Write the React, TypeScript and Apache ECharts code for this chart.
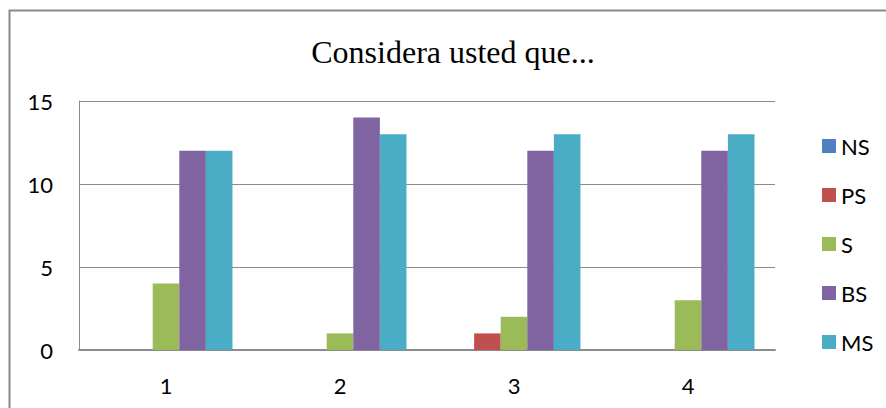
import React, { useEffect, useRef } from "react";
import * as echarts from "echarts";

const categories = ["1", "2", "3", "4"];
const seriesNames = ["NS", "PS", "S", "BS", "MS"];
const nsValues = [0, 0, 0, 0];
const psValues = [0, 0, 1, 0];
const sValues = [4, 1, 2, 3];
const bsValues = [12, 14, 12, 12];
const msValues = [12, 13, 13, 13];
const colors = ["#4F81BD", "#C0504D", "#9BBB59", "#8064A2", "#4BACC6"];
const titleText = "Considera usted que...";

export default function App() {
  const ref = useRef<HTMLDivElement>(null);
  useEffect(() => {
    if (!ref.current) return;
    const chart = echarts.init(ref.current, undefined, { renderer: "svg" });
    const values = [nsValues, psValues, sValues, bsValues, msValues];
    const font = "Lato";
    chart.setOption({
      animation: false,
      backgroundColor: "#ffffff",
      title: {
        text: titleText,
        left: 448,
        top: 31,
        textAlign: "center",
        textStyle: {
          fontFamily: "Liberation Serif",
          fontSize: 32,
          fontWeight: "normal",
          color: "#000",
        },
      },
      graphic: [
        {
          type: "rect",
          shape: { x: 9.5, y: 10.5, width: 1000, height: 600 },
          style: { fill: "none", stroke: "#8a8a8a", lineWidth: 2 },
          silent: true,
        },
      ],
      legend: {
        orient: "vertical",
        left: 817,
        top: 130,
        itemWidth: 14,
        itemHeight: 14,
        itemGap: 27,
        icon: "rect",
        textStyle: { fontFamily: font, fontSize: 22, color: "#000" },
        data: seriesNames,
      },
      grid: { left: 79, right: 111, top: 101, bottom: 58 },
      xAxis: {
        type: "category",
        data: categories,
        axisLine: { lineStyle: { color: "#8c8c8c", width: 2 } },
        axisTick: { show: false },
        axisLabel: { fontFamily: font, fontSize: 22, color: "#000", margin: 24 },
      },
      yAxis: {
        type: "value",
        min: 0,
        max: 15,
        interval: 5,
        axisLine: { show: true, lineStyle: { color: "#8c8c8c", width: 1 } },
        axisTick: { show: false },
        splitLine: { lineStyle: { color: "#8c8c8c", width: 1 } },
        axisLabel: { fontFamily: font, fontSize: 22, color: "#000", margin: 26 },
      },
      series: seriesNames.map((name, i) => ({
        name,
        type: "bar",
        data: values[i],
        barGap: "0%",
        barCategoryGap: "23.6%",
        itemStyle: { color: colors[i] },
      })),
    });
    return () => chart.dispose();
  }, []);
  return (
    <div
      ref={ref}
      style={{ position: "fixed", left: 0, top: 0, width: 886, height: 408 }}
    />
  );
}
